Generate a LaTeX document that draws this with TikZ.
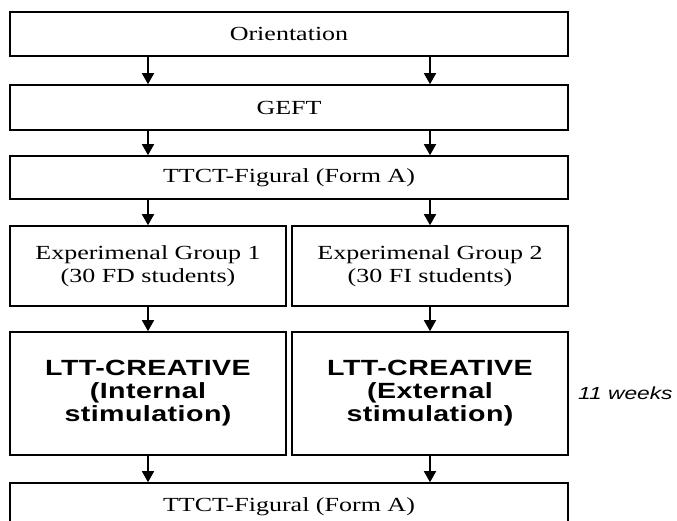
\documentclass[tikz,border=0pt]{standalone}
\usepackage{fontspec}
\setmainfont{Liberation Serif}[FakeStretch=1.3]
\newfontfamily\lttfont{Liberation Sans}[FakeStretch=1.3,LetterSpace=2]
\newfontfamily\wkfont{Liberation Sans}[FakeStretch=1.3]
\usetikzlibrary{arrows.meta}
\tikzset{
  box/.style={draw, line width=1.6pt, inner sep=0pt, align=center,
    font={\fontsize{20}{23}\selectfont}},
  bigbox/.style={box, font={\lttfont\bfseries\fontsize{22}{23}\selectfont}},
  arr/.style={line width=1.6pt, -{Triangle[width=12pt,length=11pt]}},
}
\begin{document}
\begin{tikzpicture}[x=1pt,y=-1pt]
\useasboundingbox (0,0) rectangle (677,521);
\clip (0,0) rectangle (677,521);
\node[box, minimum width=558pt, minimum height=44pt] (O) at (289,34) {Orientation};
\node[box, minimum width=558pt, minimum height=45pt] (G) at (289,107.5) {GEFT};
\node[box, minimum width=558pt, minimum height=43pt] (T1) at (289,177.5) {TTCT-Figural (Form A)};
\node[box, minimum width=276pt, minimum height=80pt] (E1) at (148,266) {Experimenal Group 1\\(30 FD students)};
\node[box, minimum width=276pt, minimum height=80pt] (E2) at (430,266) {Experimenal Group 2\\(30 FI students)};
\node[bigbox, minimum width=276pt, minimum height=123pt] (L1) at (148,393.5) {LTT-CREATIVE\\(Internal\\stimulation)};
\node[bigbox, minimum width=276pt, minimum height=123pt] (L2) at (430,393.5) {LTT-CREATIVE\\(External\\stimulation)};
\node[box, minimum width=558pt, minimum height=47pt] (T2) at (289,506.5) {TTCT-Figural (Form A)};
\node[anchor=west, inner sep=0pt, font={\wkfont\itshape\fontsize{17.5}{20}\selectfont}] (wk) at (578,393) {11 weeks};
\foreach \c in {E1,E2}{
  \draw[arr] (O.south -| \c) -- (G.north -| \c);
  \draw[arr] (G.south -| \c) -- (T1.north -| \c);
  \draw[arr] (T1.south -| \c) -- (\c.north);
}
\draw[arr] (E1) -- (L1);
\draw[arr] (E2) -- (L2);
\draw[arr] (L1.south) -- (T2.north -| L1);
\draw[arr] (L2.south) -- (T2.north -| L2);
\end{tikzpicture}
\end{document}
